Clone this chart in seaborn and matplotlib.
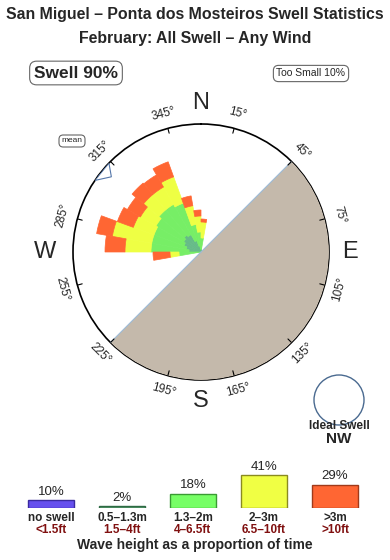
import numpy as np
import matplotlib
matplotlib.use("Agg")
import matplotlib.pyplot as plt
from matplotlib.patches import Circle
import seaborn as sns

# ---------------- data ----------------
title1 = "San Miguel – Ponta dos Mosteiros Swell Statistics"
title2 = "February: All Swell – Any Wind"

# rose directions (deg, compass) and segment lengths per height class
rose_dirs = [265, 275, 285, 295, 305, 315, 325, 335, 345, 355, 5]
rose_small = [0, 12, 15, 18, 20, 22, 20, 12, 6, 3, 2]      # 0.5-1.3m
rose_mid = [22, 38, 35, 32, 32, 33, 35, 40, 22, 17, 12]    # 1.3-2m
rose_big = [9, 26, 40, 22, 18, 20, 20, 28, 19, 16, 16]     # 2-3m
rose_huge = [17, 20, 16, 17, 15, 15, 14, 16, 10, 6, 3]     # >3m

deg_labels = [15, 45, 75, 105, 135, 165, 195, 225, 255, 285, 315, 345]
compass = ["N", "E", "S", "W"]
compass_deg = [0, 90, 180, 270]

mean_dir = 310
land_from, land_to = 45, 225

legend_pct = [10, 2, 18, 41, 29]
legend_m = ["no swell", "0.5–1.3m", "1.3–2m", "2–3m", ">3m"]
legend_ft = ["<1.5ft", "1.5–4ft", "4–6.5ft", "6.5–10ft", ">10ft"]
legend_colors = ["#6650ee", "#5a9e70", "#77ff66", "#f0ff44", "#ff6633"]
legend_edges = ["#3a2aa0", "#2e6a44", "#3a9a33", "#8a8a20", "#a03a1a"]
rose_colors = ["#66bb88", "#77ee66", "#eeff44", "#ff6633"]

# ---------------- style ----------------
sns.set_theme(style="white")
plt.rcParams["font.family"] = ["Liberation Sans", "DejaVu Sans"]

W, H = 390, 560
fig = plt.figure(figsize=(W / 100, H / 100), dpi=100)
fig.patch.set_facecolor("white")

fig.text(0.5, 1 - 14 / H, title1, ha="center", va="center", fontsize=11.4, fontweight="bold")
fig.text(0.5, 1 - 39 / H, title2, ha="center", va="center", fontsize=11.4, fontweight="bold")

box = dict(boxstyle="round,pad=0.25,rounding_size=0.4", fc="white", ec="#666666", lw=0.8)
fig.text(76 / W, 1 - 73 / H, "Swell 90%", ha="center", va="center", fontsize=12.5,
         fontweight="bold", bbox=box)
fig.text(311 / W, 1 - 73.5 / H, "Too Small 10%", ha="center", va="center", fontsize=7.5,
         bbox=dict(boxstyle="round,pad=0.3,rounding_size=0.5", fc="white", ec="#666666", lw=0.8))
fig.text(72 / W, 1 - 141 / H, "mean", ha="center", va="center", fontsize=6,
         bbox=dict(boxstyle="round,pad=0.3,rounding_size=0.5", fc="white", ec="#666666", lw=0.8))

# ---------------- rose ----------------
cx, cy, R = 201, 252, 128
ax = fig.add_axes([(cx - R) / W, 1 - (cy + R) / H, 2 * R / W, 2 * R / H], projection="polar")
ax.set_theta_zero_location("N")
ax.set_theta_direction(-1)
ax.set_ylim(0, R)
ax.set_xticks([])
ax.set_yticks([])
ax.grid(False)
ax.set_facecolor("white")
ax.spines["polar"].set_color("black")
ax.spines["polar"].set_linewidth(1.2)

# land half disk
ax.bar(np.deg2rad((land_from + land_to) / 2), R, width=np.deg2rad(land_to - land_from),
       bottom=0, color="#c4b9ab", edgecolor="none", zorder=3)
for d in (land_from, land_to):
    ax.plot([np.deg2rad(d)] * 2, [0, R], color="#9dbbd8", lw=0.8, zorder=3.5)

theta = np.deg2rad(rose_dirs)
width = np.deg2rad(10)
bottom = np.zeros(len(rose_dirs))
for seg, col in zip([rose_small, rose_mid, rose_big, rose_huge], rose_colors):
    seg = np.array(seg, dtype=float)
    ax.bar(theta, seg, width=width, bottom=bottom, color=col, edgecolor=col, lw=0.5, zorder=2)
    bottom += seg

# ticks and degree labels
for d in deg_labels:
    t = np.deg2rad(d)
    ax.plot([t, t], [R, R - 5], color="black", lw=0.8, zorder=4)
    rot = 180 - d if 90 < d < 270 else -d
    ax.text(t, 143, f"{d}°", rotation=rot, rotation_mode="anchor", ha="center", va="center",
            fontsize=8.5, clip_on=False)
for lab, d in zip(compass, compass_deg):
    rr = 156 if lab == "W" else 149
    ax.text(np.deg2rad(d), rr, lab, ha="center", va="center", fontsize=17, clip_on=False)

# mean arrow
ax.fill(np.deg2rad([mean_dir - 6, mean_dir, mean_dir + 4]), [R, R - 11, R],
        facecolor="white", edgecolor="#5577aa", lw=0.8, zorder=5)

# ideal swell
fig.add_artist(Circle((339 / 100, (H - 400) / 100), 0.25, transform=fig.dpi_scale_trans,
                      fc="white", ec="#4a6a90", lw=1.0))
fig.text(339 / W, 1 - 426 / H, "Ideal Swell", ha="center", va="center", fontsize=8.5,
         fontweight="bold")
fig.text(339 / W, 1 - 439 / H, "NW", ha="center", va="center", fontsize=11, fontweight="bold")

# ---------------- legend bars ----------------
lax = fig.add_axes([15.5 / W, 1 - 508 / H, 355 / W, 40 / H])
sns.barplot(x=legend_m, y=legend_pct, hue=legend_m, palette=legend_colors, legend=False,
            ax=lax, width=0.65, saturation=1, linewidth=1)
for p, ec in zip(lax.patches, legend_edges):
    p.set_edgecolor(ec)
lax.set_xlim(-0.5, 4.5)
lax.set_ylim(0, 50)
lax.axis("off")
for i, (v, m, ft) in enumerate(zip(legend_pct, legend_m, legend_ft)):
    lax.text(i, v + 10.5, f"{v}%", ha="center", va="center", fontsize=9.5, clip_on=False)
    lax.text(i, -13, m, ha="center", va="center", fontsize=8.5, fontweight="bold", clip_on=False)
    lax.text(i, -27.5, ft, ha="center", va="center", fontsize=8.5, fontweight="bold",
             color="#801010", clip_on=False)
fig.text(0.5, 1 - 545 / H, "Wave height as a proportion of time", ha="center", va="center",
         fontsize=10, fontweight="bold")

fig.savefig("out.png", dpi=100)
